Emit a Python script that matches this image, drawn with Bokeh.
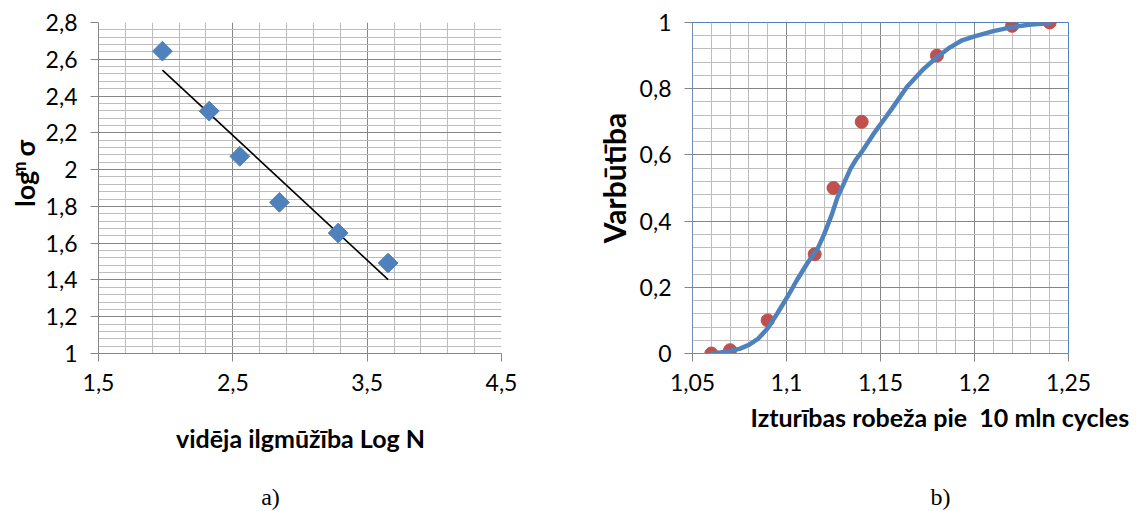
import numpy as np
from bokeh.plotting import figure
from bokeh.layouts import row, column
from bokeh.models import FixedTicker, CustomJSTickFormatter, Range1d, Label
from bokeh.embed import file_html
from bokeh.resources import INLINE

# ---- left chart data ----
log_n = [1.976, 2.324, 2.552, 2.847, 3.284, 3.656]
log_sigma = [2.644, 2.318, 2.072, 1.822, 1.655, 1.492]
left_xticks = [1.5, 2.5, 3.5, 4.5]
left_yticks = [1.0, 1.2, 1.4, 1.6, 1.8, 2.0, 2.2, 2.4, 2.6, 2.8]

# ---- right chart data ----
limit_x = [1.06, 1.07, 1.09, 1.115, 1.125, 1.14, 1.18, 1.22, 1.24]
prob_y = [0.0, 0.01, 0.1, 0.3, 0.5, 0.7, 0.9, 0.99, 1.0]
curve_x = [1.060, 1.065, 1.070, 1.075, 1.080, 1.085, 1.090, 1.095, 1.101, 1.106, 1.111, 1.117,
           1.120, 1.124, 1.127, 1.131, 1.134, 1.137, 1.140, 1.147, 1.156, 1.164, 1.173,
           1.180, 1.187, 1.193, 1.200, 1.210, 1.220, 1.230, 1.240]
curve_y = [0.000, 0.003, 0.008, 0.014, 0.026, 0.045, 0.076, 0.120, 0.176, 0.226, 0.272, 0.322,
           0.360, 0.418, 0.470, 0.520, 0.558, 0.586, 0.609, 0.669, 0.739, 0.805, 0.860,
           0.895, 0.925, 0.945, 0.958, 0.974, 0.986, 0.994, 0.998]
right_xticks = [1.05, 1.10, 1.15, 1.20, 1.25]
right_yticks = [0.0, 0.2, 0.4, 0.6, 0.8, 1.0]

FONT = "Lato"
MAJOR = "#868686"
MINOR = "#bdbdbd"
TOP_H = 400
BOT_H = 110
fmt = CustomJSTickFormatter(code="return (Math.round(tick*100)/100).toString().replace('.', ',');")


def minor_list(lo, hi, step, majors):
    vals = np.round(np.arange(lo, hi + step / 2, step), 4)
    return [float(v) for v in vals if not any(abs(v - m) < 1e-6 for m in majors)]


def style(p, xt, xm, yt, ym):
    p.xaxis.ticker = FixedTicker(ticks=xt, minor_ticks=xm)
    p.yaxis.ticker = FixedTicker(ticks=yt, minor_ticks=ym)
    p.xgrid.ticker = FixedTicker(ticks=xt, minor_ticks=xm)
    p.ygrid.ticker = FixedTicker(ticks=yt, minor_ticks=ym)
    for ax in (p.xaxis, p.yaxis):
        ax.formatter = fmt
        ax.major_label_text_font = FONT
        ax.major_label_text_font_size = "23px"
        ax.major_label_text_color = "black"
        ax.axis_line_color = MAJOR
        ax.major_tick_line_color = MAJOR
        ax.major_tick_out = 8
        ax.major_tick_in = 0
        ax.minor_tick_out = 0
        ax.minor_tick_in = 0
    p.xaxis.major_label_standoff = 12
    p.yaxis.major_label_standoff = 13
    for g in (p.xgrid, p.ygrid):
        g.grid_line_color = MAJOR
        g.grid_line_width = 1
        g.minor_grid_line_color = MINOR
        g.minor_grid_line_width = 1
    p.background_fill_color = "white"
    p.border_fill_color = "white"


def strip(w, h):
    s = figure(width=w, height=h, x_range=Range1d(0, w), y_range=Range1d(0, h),
               output_backend="svg", toolbar_location=None,
               min_border_left=0, min_border_right=0, min_border_top=0, min_border_bottom=0)
    s.axis.visible = False
    s.grid.visible = False
    s.outline_line_color = None
    s.background_fill_color = "white"
    s.border_fill_color = "white"
    return s


def text(s, x, y, t, size, bold=True, angle=0.0, align="center", baseline="middle", font=FONT):
    s.add_layout(Label(x=x, y=y, text=t, text_font=font, text_font_size=size,
                       text_font_style="bold" if bold else "normal", angle=angle,
                       text_align=align, text_baseline=baseline, text_color="black"))


# ---------- left strip (y title of chart a) ----------
sa = strip(40, TOP_H)
text(sa, 24, TOP_H - 223, "log", "27px", angle=np.pi / 2, align="left", baseline="alphabetic")
text(sa, 18, TOP_H - 186, "m", "18px", angle=np.pi / 2, align="left", baseline="alphabetic")
text(sa, 24, TOP_H - 162, "σ", "27px", angle=np.pi / 2, align="left", baseline="alphabetic")

# ---------- chart a ----------
p1 = figure(width=520, height=TOP_H, x_range=Range1d(1.5, 4.5), y_range=Range1d(1.0, 2.8),
            output_backend="svg", toolbar_location=None,
            min_border_left=58, min_border_right=59, min_border_top=22, min_border_bottom=TOP_H - 353)
style(p1, left_xticks, minor_list(1.5, 4.5, 0.2, left_xticks),
      left_yticks, minor_list(1.0, 2.8, 0.04, left_yticks))
p1.outline_line_color = None

coef = np.polyfit(log_n, log_sigma, 1)
trend_x = [min(log_n), max(log_n)]
trend_y = [float(np.polyval(coef, v)) for v in trend_x]
p1.line(trend_x, trend_y, line_color="black", line_width=1.6)
p1.scatter(log_n, log_sigma, marker="square", angle=np.pi / 4, size=14,
           fill_color="#4f81bd", line_color="#4f81bd")

# ---------- middle strip (y title of chart b) ----------
sb = strip(76, TOP_H)
text(sb, 53, TOP_H - 188, "Varbūtība", "30px", angle=np.pi / 2)

# ---------- chart b ----------
p2 = figure(width=500, height=TOP_H, x_range=Range1d(1.05, 1.25), y_range=Range1d(0.0, 1.0),
            output_backend="svg", toolbar_location=None,
            min_border_left=55, min_border_right=68, min_border_top=22, min_border_bottom=TOP_H - 353)
style(p2, right_xticks, minor_list(1.05, 1.25, 0.01, right_xticks),
      right_yticks, minor_list(0.0, 1.0, 0.04, right_yticks))
p2.outline_line_color = "#4f81bd"
p2.outline_line_width = 1
p2.yaxis.axis_line_color = "#6f8db8"

p2.scatter(limit_x, prob_y, marker="circle", size=13, fill_color="#c0504d", line_color="#c0504d")
p2.line(curve_x, curve_y, line_color="#4f81bd", line_width=4.5, line_join="round", line_cap="round")

# ---------- bottom strip: x titles and captions ----------
sc = strip(1136, BOT_H)
Y0 = TOP_H + BOT_H
text(sc, 300, Y0 - 437, "vidēja ilgmūžība Log N", "25px")
text(sc, 750, Y0 - 416, "Izturības robeža pie\u00a0 10 mln cycles", "25px", align="left")
text(sc, 270, Y0 - 496, "a)", "24px", bold=False, font="Liberation Serif")
text(sc, 940, Y0 - 496, "b)", "24px", bold=False, font="Liberation Serif")

layout = column(row(sa, p1, sb, p2), sc)
open("out.html", "w").write(file_html(layout, INLINE))
